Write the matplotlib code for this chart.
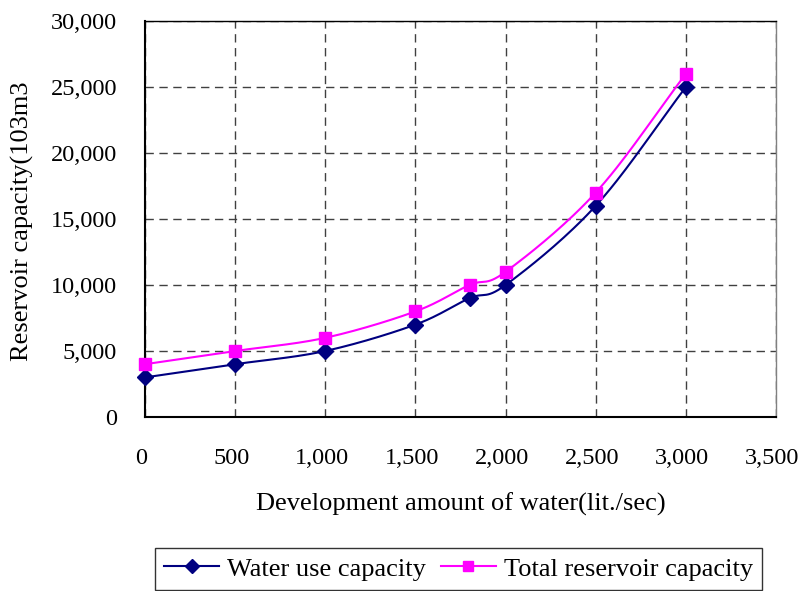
import numpy as np
import matplotlib
matplotlib.use("Agg")
import matplotlib.pyplot as plt
import matplotlib.transforms as mtransforms

x_vals = [0, 500, 1000, 1500, 1800, 2000, 2500, 3000]
water_use = [3000, 4000, 5000, 7000, 9000, 10000, 16000, 25000]
total_cap = [4000, 5000, 6000, 8000, 10000, 11000, 17000, 26000]
x_ticks = [0, 500, 1000, 1500, 2000, 2500, 3000, 3500]
y_ticks = [0, 5000, 10000, 15000, 20000, 25000, 30000]

plt.rcParams['font.family'] = ['Liberation Serif', 'DejaVu Serif']


def smooth(xs, ys, n=30):
    xs = np.asarray(xs, float)
    ys = np.asarray(ys, float)
    px = np.concatenate([[2 * xs[0] - xs[1]], xs, [2 * xs[-1] - xs[-2]]])
    py = np.concatenate([[2 * ys[0] - ys[1]], ys, [2 * ys[-1] - ys[-2]]])
    ox, oy = [], []
    t = np.linspace(0, 1, n, endpoint=False)
    for i in range(1, len(px) - 2):
        for arr, out in ((px, ox), (py, oy)):
            p0, p1, p2, p3 = arr[i - 1], arr[i], arr[i + 1], arr[i + 2]
            m1 = (p2 - p0) / 6.0
            m2 = (p3 - p1) / 6.0
            b1 = p1 + m1
            b2 = p2 - m2
            out.extend((1 - t) ** 3 * p1 + 3 * (1 - t) ** 2 * t * b1 + 3 * (1 - t) * t ** 2 * b2 + t ** 3 * p2)
    ox.append(xs[-1])
    oy.append(ys[-1])
    return np.array(ox), np.array(oy)


fig = plt.figure(figsize=(8.03, 5.91), dpi=100)
W, H = 803, 591
ax = fig.add_axes([145 / W, (H - 417) / H, (776 - 145) / W, (417 - 21) / H])

navy = '#000080'
mag = '#FF00FF'
sx, sy = smooth(x_vals, water_use)
ax.plot(sx, sy, color=navy, lw=1.5, zorder=3, clip_on=False)
ax.plot(x_vals, water_use, linestyle='none', marker='D', ms=8, color=navy, zorder=4, clip_on=False)
sx2, sy2 = smooth(x_vals, total_cap)
ax.plot(sx2, sy2, color=mag, lw=1.5, zorder=3, clip_on=False)
ax.plot(x_vals, total_cap, linestyle='none', marker='s', ms=8, color=mag, zorder=4, clip_on=False)

ax.set_xlim(0, 3500)
ax.set_ylim(0, 30000)
ax.set_xticks(x_ticks)
ax.set_yticks(y_ticks)
ax.set_xticklabels([f"{v:,}" for v in x_ticks])
ax.set_yticklabels([f"{v:,}" for v in y_ticks])
ax.tick_params(axis='both', labelsize=17.5, length=0)
ax.tick_params(axis='y', pad=20)
ax.tick_params(axis='x', pad=22)
shift = mtransforms.ScaledTranslation(-3.5 / 100, 0, fig.dpi_scale_trans)
for lab in ax.get_xticklabels():
    lab.set_transform(lab.get_transform() + shift)
ax.grid(True, color='#404040', linestyle=(0, (6, 4)), lw=1)
for s in ['left', 'bottom']:
    ax.spines[s].set_linewidth(1.5)
    ax.spines[s].set_color('black')
ax.spines['top'].set_linewidth(1)
ax.spines['top'].set_color('black')
ax.spines['right'].set_linewidth(1)
ax.spines['right'].set_color('#808080')

ax.set_xlabel('Development amount of water(lit./sec)', fontsize=19)
ax.xaxis.set_label_coords(0.5, (417 - 493) / 396)
ax.set_ylabel('Reservoir capacity(103m3', fontsize=19)
ax.yaxis.set_label_coords((34 - 145) / 631, 0.494)

h1 = plt.Line2D([], [], color=navy, lw=1.5, marker='D', ms=7)
h2 = plt.Line2D([], [], color=mag, lw=1.5, marker='s', ms=7)
leg = fig.legend([h1, h2], ['Water use capacity', 'Total reservoir capacity'],
                 loc='upper left', bbox_to_anchor=(155 / W, (H - 548) / H), ncol=2,
                 fontsize=19, frameon=True, fancybox=False, edgecolor='black',
                 handlelength=2.08, handletextpad=0.3, columnspacing=0.57,
                 borderpad=0.35, borderaxespad=0)
leg.get_frame().set_linewidth(1)

fig.savefig('out.png', dpi=100)
